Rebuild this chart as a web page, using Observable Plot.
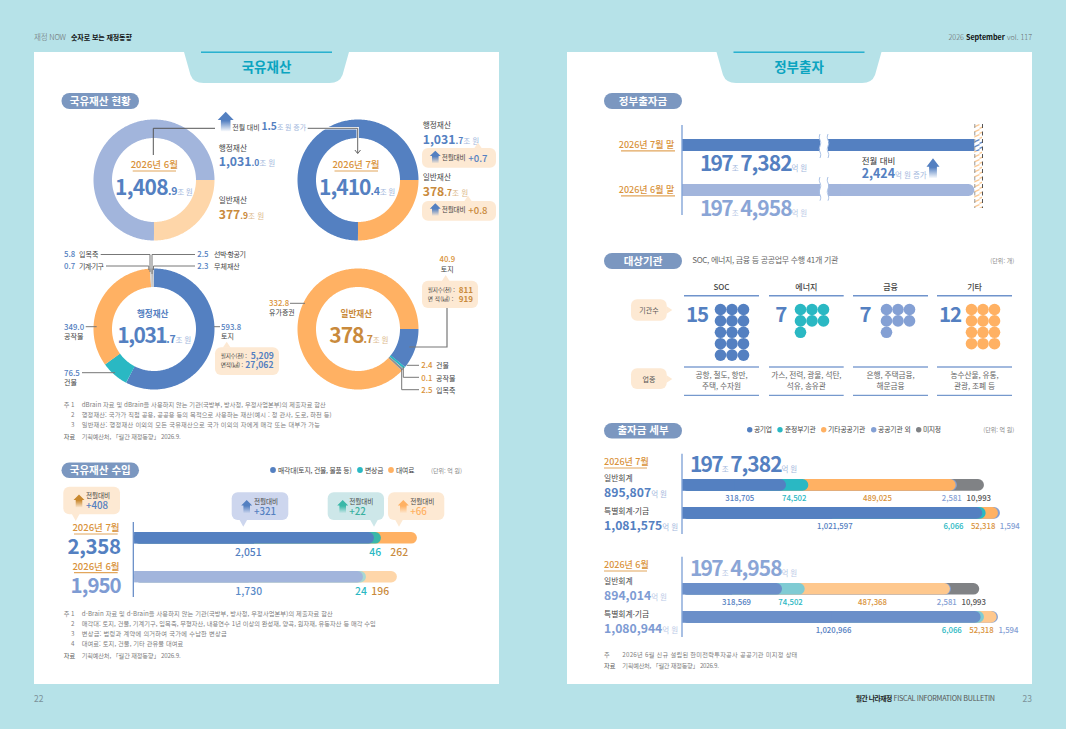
<!DOCTYPE html>
<html lang="ko"><head><meta charset="utf-8">
<script src="https://cdn.jsdelivr.net/npm/d3@7"></script>
<script src="https://cdn.jsdelivr.net/npm/@observablehq/plot@0.6"></script>
<style>
html,body{margin:0;padding:0;background:#b6e2e8;overflow:hidden}
#page{position:relative;width:1066px;height:729px;overflow:hidden}
#page>svg.layer{position:absolute;left:0;top:0}
</style></head><body><div id="page"></div>
<script>
// ---- data ----
const totalShareJun = [75, 25];              // slices as drawn
const totalShareJul = [75, 25];
const adminAssetNames = ["토지","건물","공작물","입목죽","기계·기구","선박·항공기","무체재산"];
const adminAssetValues = [593.8, 76.5, 349.0, 5.8, 0.7, 2.5, 2.3];
const generalAssetNames = ["토지","건물","공작물","입목죽","유가증권"];
const generalAssetValues = [40.9, 2.4, 0.1, 2.5, 332.8];
const revenueNames = ["매각대","변상금","대여료"];
const revenueJul = [2051, 46, 262];
const revenueJun = [1730, 24, 196];
const fundMonths = ["2026년 7월 말","2026년 6월 말"];
const fundTotals = [1977382, 1974958];
const orgGroups = ["SOC","에너지","금융","기타"];
const orgCounts = [15, 7, 7, 12];
const orgSectors = [["공항, 철도, 항만,","주택, 수자원"],["가스, 전력, 광물, 석탄,","석유, 송유관"],["은행, 주택금융,","해운금융"],["농수산물, 유통,","관광, 조폐 등"]];
const fundGeneralJul = [318705, 74502, 489025, 2581, 10993];
const fundSpecialJul = [1021597, 6066, 52318, 1594];
const fundGeneralJun = [318569, 74502, 487368, 2581, 10993];
const fundSpecialJun = [1020966, 6066, 52318, 1594];

// ---- palette ----
const FONT = "'Noto Sans CJK KR','Noto Sans',sans-serif";
const C = {blue:"#5480c1",lblue:"#a2b5dc",mblue:"#84a0d4",orange:"#ffb163",lorange:"#fed6a9",teal:"#2ab8c3",grey:"#808285",
  gold:"#d9923a",dgold:"#c98a3c",unit:"#a3b8dd",ink:"#444",note:"#7d7d7d",cream:"#fde9d3",pill:"#7b97c0",tab:"#0ba4c0"};

const page = d3.select("#page");
function layer(){return page.append("svg").attr("class","layer").attr("width",1066).attr("height",729).style("font-family",FONT);}
const bg = layer();

// pattern definitions
const defs = bg.append("defs");
function hatch(id,color){
  const p=defs.append("pattern").attr("id",id).attr("width",8.5).attr("height",5).attr("patternUnits","userSpaceOnUse");
  p.append("path").attr("d","M0,4.5 L8.5,0.5").attr("stroke",color).attr("stroke-width",1.2).attr("fill","none");
}
hatch("hatchO","#f9c48c"); hatch("hatchB","#5480c1");

// page panels and tabs
function panel(x0,x1,cx){
  bg.append("rect").attr("x",x0).attr("y",52).attr("width",x1-x0).attr("height",632).attr("fill","#fff");
  bg.append("path").attr("d",`M${cx-82.5},52 L${cx+82.5},52 L${cx+76},75 Q${cx+73},83 ${cx+63},83 L${cx-63},83 Q${cx-73},83 ${cx-76},75 Z`).attr("fill","#b6e2e8");
  bg.append("rect").attr("x",cx-65.5).attr("y",51.5).attr("width",131).attr("height",1.4).attr("fill","#1aaccc");
}
panel(34,499,266.5); panel(567,1032,799);

// ---- chart helpers (all through Plot scales) ----
function donut(cx,cy,values,colors,startDeg,R=60.5,r=42){
  const total=d3.sum(values), mid=(R+r)/2/R; let acc=startDeg; const pts=[];
  values.forEach((v,i)=>{
    const span=v/total*360, n=Math.max(2,Math.ceil(span));
    for(let k=0;k<=n;k++){const a=(acc+span*k/n)*Math.PI/180; pts.push({slice:i,px:mid*Math.sin(a),py:mid*Math.cos(a),color:colors[i]});}
    acc+=span;
  });
  const svg=Plot.plot({width:2*R,height:2*R,margin:0,
    x:{domain:[-1,1],range:[0,2*R],axis:null},y:{domain:[-1,1],range:[2*R,0],axis:null},color:{type:"identity"},
    style:{background:"transparent",overflow:"visible",position:"absolute",left:(cx-R)+"px",top:(cy-R)+"px",maxWidth:"none"},
    marks:[Plot.line(pts,{x:"px",y:"py",z:"slice",stroke:"color",strokeWidth:R-r,strokeLinecap:"butt",strokeLinejoin:"round",curve:"linear"})]});
  page.node().append(svg);
}
function stackBar(x0,y0,h,values,colors,ends,labels){
  const cum=d3.cumsum(values), dom=[0,...cum], rng=[0,...ends], sc=d3.scaleLinear(dom,rng);
  const W=ends[ends.length-1];
  const segs=values.map((v,i)=>({end:cum[i],color:colors[i]})).reverse();
  const marks=[Plot.barX(segs,{x1:0,x2:"end",fill:"color",rx:h/2}),
    Plot.barX([{end:cum[0]/2}],{x1:0,x2:"end",fill:colors[0]})];
  labels.forEach((l,i)=>{
    const from=i?cum[i-1]:0, m=(from+cum[i])/2;
    marks.push(Plot.text([l.text],{x:()=>m,text:d=>d,dx:l.cx-x0-sc(m),dy:l.base-y0-h/2-.32*l.size,fontSize:l.size,fontWeight:l.weight||500,fontFamily:FONT,fill:l.color,lineAnchor:"middle",textAnchor:"middle"}));
  });
  page.node().append(Plot.plot({width:Math.ceil(W),height:h,margin:0,
    x:{type:"linear",domain:dom,range:rng,axis:null},color:{type:"identity"},
    style:{background:"transparent",overflow:"visible",position:"absolute",left:x0+"px",top:y0+"px",maxWidth:"none"},marks}));
}
function waffle(x0,y0,count,color){
  page.node().append(Plot.plot({width:24,height:46,margin:0,
    x:{domain:[0,2],range:[0,23],axis:null},y:{domain:[0,4],range:[0,45.6],axis:null},
    style:{background:"transparent",overflow:"visible",position:"absolute",left:x0+"px",top:y0+"px",maxWidth:"none"},
    marks:[Plot.dot(d3.range(count),{x:i=>i%3,y:i=>Math.floor(i/3),r:5.8,fill:color})]}));
}

// ---- donuts ----
donut(153.7,179.5,totalShareJun,[C.lblue,C.lorange],180);
donut(357.3,179.5,totalShareJul,[C.blue,C.orange],180);
donut(153.7,328.7,adminAssetValues,[C.blue,C.teal,C.orange,"#cfcfcf","#ffffff","#8d8d8d","#c4cbd8"],0);
donut(357.3,328.7,generalAssetValues,[C.blue,C.teal,"#ffffff","#8d9196",C.orange],90);

// ---- revenue bars ----
const revBlue="#5a8bc8";
stackBar(133.5,532,11.6,revenueJul,[C.blue,"#3ab8a8",C.orange],[240,247,283],[
  {text:"2,051",cx:247.3,base:556,size:10.4,color:C.blue},{text:"46",cx:374.3,base:556,size:10.4,color:C.teal},{text:"262",cx:398.3,base:556,size:10.4,color:C.dgold}]);
stackBar(133.5,571,11.4,revenueJun,[C.lblue,"#a8d8d2",C.lorange],[229,232,263],[
  {text:"1,730",cx:247.7,base:595,size:10.4,color:revBlue},{text:"24",cx:360,base:595,size:10.4,color:C.teal},{text:"196",cx:379.3,base:595,size:10.4,color:C.dgold}]);

// ---- fund total bars, broken axis ----
const fundBase=1883000, fundRows=fundMonths.map((m,i)=>({m,v:fundTotals[i]}));
page.node().append(Plot.plot({width:300,height:84,margin:0,
  x:{domain:[fundBase,fundTotals[0]],range:[0,300],axis:null},
  y:{type:"band",domain:fundMonths,range:[15,71.7],paddingInner:.74,paddingOuter:0,axis:null},
  style:{background:"transparent",overflow:"visible",position:"absolute",left:"682px",top:"124px",maxWidth:"none"},
  marks:[
    Plot.rect([0],{x1:()=>fundTotals[1],x2:()=>fundTotals[0],fill:"url(#hatchO)"}),
    Plot.barX([fundRows[0]],{x1:()=>fundBase,x2:"v",y:"m",fill:C.blue}),
    Plot.barX([fundRows[1]],{x1:()=>fundBase,x2:"v",y:"m",fill:C.lblue,rx:5.8}),
    Plot.barX([fundRows[1]],{x1:()=>fundBase,x2:()=>fundBase+50000,y:"m",fill:C.lblue}),
    Plot.barX([fundRows[0]],{x1:()=>fundTotals[1],x2:"v",y:"m",fill:"#fff"}),
    Plot.barX([fundRows[0]],{x1:()=>fundTotals[1],x2:"v",y:"m",fill:"url(#hatchB)"}),
    Plot.ruleX([fundTotals[1]],{stroke:"#9a9a9a",strokeWidth:1,strokeDasharray:"4 3.5"}),
    Plot.ruleX([fundTotals[0]],{stroke:"#555",strokeWidth:1,strokeDasharray:"4 3.5"})
  ]}));

// ---- waffles ----
const orgColors=[C.blue,C.teal,C.mblue,C.orange], orgX=[719.7,799.7,886,971];
orgCounts.forEach((n,i)=>waffle(orgX[i],308.7,n,orgColors[i]));

// ---- fund detail stacks ----
const fc=[C.blue,C.teal,C.orange,C.mblue,C.grey], fcS=[C.blue,C.teal,C.orange,C.mblue];
const fa=["#6b8fc9","#7fcbd3","#fec88e",C.mblue,C.grey], faS=["#6b8fc9","#7fcbd3","#fec88e",C.mblue];
const lab=(text,cx,base,color)=>({text,cx,base,size:7.8,color});
const fmt=d3.format(",");
stackBar(682,479.3,11.8,fundGeneralJul,fc,[104,126.3,273.7,275,302],[
  lab(fmt(fundGeneralJul[0]),739.3,501,C.blue),lab(fmt(fundGeneralJul[1]),793.7,501,C.teal),lab(fmt(fundGeneralJul[2]),877,501,C.gold),lab(fmt(fundGeneralJul[3]),951.3,501,C.mblue),lab(fmt(fundGeneralJul[4]),978.3,501,"#555")]);
stackBar(682,507.3,11.8,fundSpecialJul,fcS,[300.3,303.7,316,318],[
  lab(fmt(fundSpecialJul[0]),834.3,529,C.blue),lab(fmt(fundSpecialJul[1]),953,529,C.teal),lab(fmt(fundSpecialJul[2]),982.7,529,C.gold),lab(fmt(fundSpecialJul[3]),1009.3,529,C.mblue)]);
stackBar(682,582.7,11.6,fundGeneralJun,fa,[100,122.7,268,269,297.3],[
  lab(fmt(fundGeneralJun[0]),736,604,C.blue),lab(fmt(fundGeneralJun[1]),790,604,C.teal),lab(fmt(fundGeneralJun[2]),872,604,C.gold),lab(fmt(fundGeneralJun[3]),946.3,604,C.mblue),lab(fmt(fundGeneralJun[4]),973.3,604,"#555")]);
stackBar(682,610.7,11.8,fundSpecialJun,faS,[298.7,302,314.7,316],[
  lab(fmt(fundSpecialJun[0]),833,632,C.blue),lab(fmt(fundSpecialJun[1]),951.3,632,C.teal),lab(fmt(fundSpecialJun[2]),981,632,C.gold),lab(fmt(fundSpecialJun[3]),1008,632,C.mblue)]);

// ---- foreground annotation layer ----
const fg = layer();
const fgDefs = fg.append("defs");
let gid=0;
function T(x,y,parts,o={}){
  const el=fg.append("text").attr("x",x).attr("y",y).attr("text-anchor",o.a||"start");
  if(o.len) el.attr("textLength",o.len);
  (Array.isArray(parts)?parts:[[parts,o.s||8,o.c||C.ink,o.w||400,o.ls]]).forEach(p=>{
    const sp=el.append("tspan").text(p[0]).attr("font-size",p[1]).attr("fill",p[2]).attr("font-weight",p[3]||400);
    if(p[4]!=null) sp.style("letter-spacing",p[4]+"px");
  });
  return el;
}
function L(points,c="#777",w=1){fg.append("path").attr("d","M"+points.map(p=>p.join(",")).join("L")).attr("fill","none").attr("stroke",c).attr("stroke-width",w);}
function arrow(cx,top,bot,w,color){
  const id="g"+(gid++), g=fgDefs.append("linearGradient").attr("id",id).attr("x1",0).attr("x2",0).attr("y1",0).attr("y2",1);
  g.append("stop").attr("offset","45%").attr("stop-color",color);
  g.append("stop").attr("offset","100%").attr("stop-color",color).attr("stop-opacity",0);
  const hh=(bot-top)*.42,s=w*.3;
  fg.append("path").attr("d",`M${cx},${top} L${cx+w/2},${top+hh} L${cx+s},${top+hh} L${cx+s},${bot} L${cx-s},${bot} L${cx-s},${top+hh} L${cx-w/2},${top+hh} Z`).attr("fill",`url(#${id})`);
}
function box(x0,y0,x1,y1,r,fill,tip){
  fg.append("rect").attr("x",x0).attr("y",y0).attr("width",x1-x0).attr("height",y1-y0).attr("rx",r).attr("fill",fill);
  if(!tip) return;
  const [tx,ty]=tip; let d;
  if(ty<y0) d=`M${tx-4},${y0+.5} L${tx},${ty} L${tx+4},${y0+.5}Z`;
  else if(ty>y1) d=`M${tx-4},${y1-.5} L${tx},${ty} L${tx+4},${y1-.5}Z`;
  else d=`M${x1-.5},${ty-4} L${tx},${ty} L${x1-.5},${ty+4}Z`;
  fg.append("path").attr("d",d).attr("fill",fill);
}
function pill(x0,x1,y0,y1,text){
  fg.append("rect").attr("x",x0).attr("y",y0).attr("width",x1-x0).attr("height",y1-y0).attr("rx",(y1-y0)/2).attr("fill",C.pill);
  T((x0+x1)/2,y0+(y1-y0)/2+3.7,text,{a:"middle",s:10.5,c:"#fff",w:700});
}
const month=(cx,base,text,x0,x1,s=9.5)=>{T(cx,base,text,{a:"middle",s,c:C.gold,w:500});L([[x0,base+3],[x1,base+3]],"#e2a65c",1.2);};
const big=(a,b,c,ls=-.7,col=C.blue,ucol=C.unit,s=21)=>[[a,s,col,700,ls],[b,10.5,col,700,-.2],[c,7.6,ucol,400,-.2]];

// header/footer
T(34,40,[["재정 NOW",7.5,"#666",300,-.2]]);
T(71,40,[["숫자로 보는 재정동향",7,"#111",700,-.1]]);
T(1032,40,[["2026 ",7.2,"#666",300],["September",7.2,"#111",700],[" vol. 117",7.2,"#666",300]],{a:"end"});
T(34,702,"22",{s:8.5,c:"#7c9198"});
T(855.7,701,[["월간 나라재정",6.8,"#222",700,-.2],[" FISCAL INFORMATION BULLETIN",7.2,"#555",400]],{len:139.3});
T(1032,702,"23",{a:"end",s:8.5,c:"#7c9198"});
T(266.5,71.5,"국유재산",{a:"middle",s:13.5,c:C.tab,w:700});
T(799,71.5,"정부출자",{a:"middle",s:13.5,c:C.tab,w:700});

// 국유재산 현황
pill(61.5,139,93,109,"국유재산 현황");
arrow(225.7,111.7,131.7,16,C.blue);
T(232.3,130,[["전월 대비 ",7,"#444",400,-.1],["1.5",10.3,C.blue,700],["조 원 증가",7,C.unit,400,-.1]]);
L([[215,128.3],[153.3,128.3],[153.3,155]],"#555",1);
L([[307.7,128.3],[357.7,128.3],[357.7,153]],"#fff",2.4);
L([[307.7,128.3],[357.7,128.3],[357.7,153]],"#666",1);
L([[354.9,150],[357.7,153.6],[360.5,150]],"#666",1);
month(154.3,168,"2026년 6월",132.7,176);
month(356,168,"2026년 7월",334.5,378);
T(115,195,big("1,408",".9","조 원"));
T(319,195,big("1,410",".4","조 원",-1));
const nm=7.7;
T(218.7,150.7,"행정재산",{s:nm});
T(218.7,166,[["1,031",12.2,C.blue,700],[".0",8.5,C.blue,700],["조 원",7.6,C.unit]]);
T(218.7,203.3,"일반재산",{s:nm});
T(218.7,219,[["377",12.2,C.dgold,700],[".9",8.5,C.dgold,700],["조 원",7.6,"#dcb98c"]]);
T(422.7,128.3,"행정재산",{s:nm});
T(422.7,144,[["1,031",12.2,C.blue,700],[".7",8.5,C.blue,700],["조 원",7.6,C.unit]]);
box(422,148,496,167.7,6,C.cream,[478,142.7]);
arrow(435.3,150.7,163.5,11,C.blue);
T(441.7,160,"전월대비",{s:6.6,ls:-.1});
T(468.3,161.7,"+0.7",{s:9.5,c:C.blue,w:500});
T(422.7,180,"일반재산",{s:nm});
T(422.7,195.7,[["378",12.2,C.dgold,700],[".7",8.5,C.dgold,700],["조 원",7.6,"#dcb98c"]]);
box(422,201,496,220.7,6,C.cream,[468,195.7]);
arrow(435.3,203.3,216,11,C.blue);
T(441.7,212,"전월대비",{s:6.6,ls:-.1});
T(468.3,214,"+0.8",{s:9.5,c:C.dgold,w:500});

// 행정재산 callouts
const numS=7.8, tag=7;
T(64,257,[["5.8",numS,C.blue,500]]); T(79,257,adminAssetNames[3],{s:tag});
T(64,269,[["0.7",numS,C.blue,500]]); T(79,269,adminAssetNames[4],{s:tag,len:25});
T(197.3,257,[["2.5",numS,C.blue,500]]); T(214,257,adminAssetNames[5],{s:tag,len:32});
T(197.3,269,[["2.3",numS,C.blue,500]]); T(214,269,adminAssetNames[6],{s:tag});
L([[100.7,254.5],[150,254.5],[150,272]]);
L([[106,266],[148.8,266],[148.8,270]]);
L([[195,254.5],[152,254.5],[152,274]]);
L([[195,266],[153.5,266],[153.5,270]]);
T(152.7,317.3,"행정재산",{a:"middle",s:8.6,c:C.blue,w:700});
T(117.3,343.3,big("1,031",".7","조 원",-1.5));
T(64,330,[["349.0",numS,C.blue,500]]); T(64,339,adminAssetNames[2],{s:tag});
L([[85.7,326.7],[96.7,326.7]]);
T(64,375.7,[["76.5",numS,C.blue,500]]); T(64,385,adminAssetNames[1],{s:tag});
L([[82,372.7],[115,372.7]]);
T(221,330,[["593.8",numS,C.blue,500]]); T(221,339,adminAssetNames[0],{s:tag});
L([[214,326.7],[220,326.7]]);
box(215,347.3,279,375,6,C.cream,[226.7,341.7]);
T(220.7,358,"필지수(천) :",{s:5.6,len:26});
T(250.7,359.3,"5,209",{s:8.6,c:C.blue,w:600});
T(220.7,366.7,"면적(㎢) :",{s:5.6,len:22.3});
T(245.3,368.3,"27,062",{s:8.6,c:C.blue,w:600});

// 일반재산 callouts
T(356.3,317.3,"일반재산",{a:"middle",s:8.6,c:C.dgold,w:700});
T(329.3,343.3,big("378",".7","조 원",-1,C.dgold,"#dcb98c"));
T(447.3,261.7,"40.9",{a:"middle",s:numS,c:C.gold,w:500});
T(447.3,271.7,generalAssetNames[0],{a:"middle",s:tag});
box(422,280.7,478,308,6,C.cream,[445.7,275]);
T(427.7,291.7,"필지수(천) :",{s:5.6,len:27});
T(458.7,292.7,"811",{s:8,c:C.dgold,w:600});
T(427.7,300.7,"면   적(㎢) :",{s:5.6,len:25.7});
T(458.7,301.7,"919",{s:8,c:C.dgold,w:600});
L([[447,308],[447,347],[409.3,347]],"#777",1.2);
T(269,306,"332.8",{s:numS,c:C.gold,w:500}); T(269,315,generalAssetNames[4],{s:tag});
L([[290,303.3],[305,303.3]]);
T(421.3,367.7,"2.4",{s:numS,c:C.gold,w:500}); T(436,367.7,generalAssetNames[1],{s:tag});
T(421.3,380.7,"0.1",{s:numS,c:C.gold,w:500}); T(436,380.7,generalAssetNames[2],{s:tag});
T(421.3,392.7,"2.5",{s:numS,c:C.gold,w:500}); T(436,392.7,generalAssetNames[3],{s:tag});
L([[406.7,365.3],[419,365.3]]);
L([[403.3,366.7],[403.3,377.3],[419,377.3]]);
L([[401.7,369],[401.7,389.7],[419,389.7]]);

// notes
const note=(x,y,t,len)=>T(x,y,t,{s:6.2,c:C.note,len});
note(63.7,406.7,"주 1"); note(71,416.7,"2"); note(71,426.7,"3"); T(63.7,439,"자료",{s:6.2,c:"#555"});
note(81.7,406.7,"dBrain 자료 및 dBrain을 사용하지 않는 기관(국방부, 방사청, 우정사업본부)의 제출자료 합산",244);
note(81.7,416.7,"행정재산: 국가가 직접 공용, 공공용 등의 목적으로 사용하는 재산(예시 : 청 관사, 도로, 하천 등)",250);
note(81.7,426.7,"일반재산: 행정재산 이외의 모든 국유재산으로 국가 이외의 자에게 매각 또는 대부가 가능",238.3);
note(81.7,439,"기획예산처, 「월간 재정동향」 2026.9.",99);

// 국유재산 수입
pill(61.5,139,462.5,478,"국유재산 수입");
const dotT=(cx,cy,r,col,x,y,t,s=7.2,len)=>{fg.append("circle").attr("cx",cx).attr("cy",cy).attr("r",r).attr("fill",col);T(x,y,t,{s,c:"#444",len});};
dotT(273,470,2.9,C.blue,278,472.7,"매각대(토지, 건물, 물품 등)",6.8,73.7);
dotT(360,470,2.9,C.teal,365,472.7,"변상금",6.8,18.5);
dotT(391,470,2.9,C.orange,396,472.7,"대여료",6.8,18.5);
T(431,472.7,"(단위: 억 원)",{s:6,c:"#888",len:31});
L([[133.3,522],[133.3,597]],"#5e86c3",1.2);
function change(x0,x1,y0,y1,tipX,tipY,arrowX,col,text,textCol,textX){
  const fill={o:C.cream,b:"#cdd6ee",t:"#cde7e9"}[col];
  box(x0,y0,x1,y1,6,fill,[tipX,tipY]);
  const ac={o:C.orange,b:C.blue,t:"#3ab8a8"}[col];
  arrow(arrowX,y0+7.7,y0+21,11,text==="+408"?"#c9892f":ac);
  T(textX,y0+11.7,"전월대비",{s:6.6,ls:-.1});
  T(textX,y0+22.3,text,{s:9.7,c:textCol,w:500});
}
change(63.3,120,486.7,514.3,75.7,521,79,"o","+408",C.blue,86);
change(231.7,288.3,492.3,520,243.3,526.7,246.7,"b","+321",C.blue,254);
change(327.7,384,492.3,520,374,526.7,342.7,"t","+22","#3ab0a0",349.3);
change(388,444.3,492.3,520,399,526.7,403.3,"o","+66",C.orange,410.3);
month(96,531,"2026년 7월",74,117.7,9.5);
month(96,569.7,"2026년 6월",74,117.7,9.5);
T(120.7,554,"2,358",{a:"end",s:20.5,c:C.blue,w:700,ls:-.4});
T(120.7,593,"1,950",{a:"end",s:20.5,c:"#7e9bd3",w:700,ls:-1});
note(63.7,616,"주 1"); note(71,626,"2"); note(71,636,"3"); note(71,646,"4"); T(63.7,657.7,"자료",{s:6.2,c:"#555"});
note(81.7,616,"d-Brain 자료 및 d-Brain을 사용하지 않는 기관(국방부, 방사청, 우정사업본부)의 제출자료 합산",251);
note(81.7,626,"매각대: 토지, 건물, 기계기구, 입목죽, 무형자산, 내용연수 1년 이상의 완성재, 양곡, 원자재, 유동자산 등 매각 수입",294);
note(81.7,636,"변상금: 법령과 계약에 의거하여 국가에 수납한 변상금",145);
note(81.7,646,"대여료: 토지, 건물, 기타 관유물 대여료",101.6);
note(81.7,657.7,"기획예산처, 「월간 재정동향」 2026.9.",99);

// 정부출자금
pill(604,682,93,109,"정부출자금");
L([[682,125],[682,215]],"#84a5d8",1.4);
T(674.3,148,fundMonths[0],{a:"end",s:9,c:C.gold,w:500}); L([[621,150.9],[675,150.9]],"#e2a65c",1.2);
T(674.3,193,fundMonths[1],{a:"end",s:9,c:C.gold,w:500}); L([[621,195.9],[675,195.9]],"#e2a65c",1.2);
const amt=(col,u,b)=>[["197",21,col,700,-1.8],["조",7.5,u,400,.6],[" ",3,u],[b,21,col,700,-1],["억 원",7.5,u,400,-.2]];
T(700,170.7,amt(C.blue,C.unit,"7,382"));
T(700,215.7,amt("#8aa5d6","#b9c9e6","4,958"));
T(861.7,163.7,"전월 대비",{s:8.5,c:"#333"});
T(861.7,178.3,[["2,424",12.4,C.blue,700],["억 원 증가",7.5,C.unit]]);
arrow(933,158.3,178.5,13,C.blue);
function wave(x,y0,y1){const m=(y0+y1)/2,q=(y1-y0)/4;return `M${x},${y0} C${x-2.5},${y0+q} ${x+2.5},${m-q} ${x},${m} C${x-2.5},${m+q} ${x+2.5},${y1-q} ${x},${y1}`;}
[[134,158],[177,200.7]].forEach(([a,b])=>{
  fg.append("rect").attr("x",820).attr("y",a+4).attr("width",8).attr("height",b-a-8).attr("fill","#fff");
  fg.append("path").attr("d",wave(820,a,b)).attr("fill","none").attr("stroke","#a9c1e6").attr("stroke-width",1);
  fg.append("path").attr("d",wave(828,a,b)).attr("fill","none").attr("stroke","#a9c1e6").attr("stroke-width",1);
});

// 대상기관
pill(604,682,253,269,"대상기관");
T(692.3,263.3,"SOC, 에너지, 금융 등 공공업무 수행 41개 기관",{s:8,c:"#666",len:146});
T(1014.3,263,"(단위: 개)",{a:"end",s:6,c:"#888"});
const colL=[684,769,853,937], colR=[759,843.7,928,1012], numX=[697,780.7,865,950];
orgGroups.forEach((g,i)=>{
  const cx=(colL[i]+colR[i])/2;
  T(cx,290,g,{a:"middle",s:8,c:"#444",w:500});
  L([[colL[i],295.7],[colR[i],295.7]],"#6f93cc",1.4);
  L([[colL[i],367],[colR[i],367]],"#a2b9de",2);
  L([[colL[i],395.3],[colR[i],395.3]],C.blue,1);
  T(numX[i],322.3,String(orgCounts[i]),{a:"middle",s:20.5,c:C.blue,w:700,ls:-1.2});
  orgSectors[i].forEach((s,k)=>T(cx,378.3+k*10.7,s,{a:"middle",s:7.7,c:"#666",ls:-.1}));
});
box(631,299.3,666.7,320.7,6,C.cream,[672.3,310]);
T(649,312.8,"기관수",{a:"middle",s:7,c:"#555"});
box(631,368.3,666.7,389,6,C.cream,[672.3,379]);
T(649,381.5,"업종",{a:"middle",s:7,c:"#555"});

// 출자금 세부
pill(604,682,423,438.5,"출자금 세부");
[[749.7,754,"공기업",C.blue,18],[780,785,"준정부기관",C.teal,30.7],[823.7,828,"기타공공기관",C.orange,37.3],[873.7,878,"공공기관 외",C.mblue,32.7],[918.7,923,"미지정",C.grey,18]].forEach(d=>dotT(d[0],429.7,2.7,d[3],d[1],432.2,d[2],6.8,d[4]));
T(1014.3,432,"(단위: 억 원)",{a:"end",s:6,c:"#888"});
L([[682,453.7],[682,534]],"#84a5d8",1.4);
L([[682,556.7],[682,637]],"#84a5d8",1.4);
T(604,465,"2026년 7월",{s:9,c:C.gold,w:500}); L([[604,468],[647,468]],"#e2a65c",1.2);
T(604,568,"2026년 6월",{s:9,c:C.gold,w:500}); L([[604,571],[647,571]],"#e2a65c",1.2);
const side=(y,t,num,col,u)=>{T(604,y,t,{s:7.8});T(604,y+15.6,[[num,12.2,col,700],["억 원",7.5,u]]);};
side(481,"일반회계","895,807",C.blue,C.unit);
side(514,"특별회계·기금","1,081,575",C.blue,C.unit);
side(584.3,"일반회계","894,014","#7e9bd3","#b9c9e6");
side(617.4,"특별회계·기금","1,080,944","#7e9bd3","#b9c9e6");
T(690,472.3,amt(C.blue,C.unit,"7,382"));
T(690,575.7,amt("#8aa5d6","#b9c9e6","4,958"));
note(604,656.7,"주"); T(604,668.3,"자료",{s:6.2,c:"#555"});
note(622.3,656.7,"2026년 6월 신규 설립된 한미전략투자공사 공공기관 미지정 상태",175);
note(622.3,668.3,"기획예산처, 「월간 재정동향」 2026.9.",96.7);
</script></body></html>
